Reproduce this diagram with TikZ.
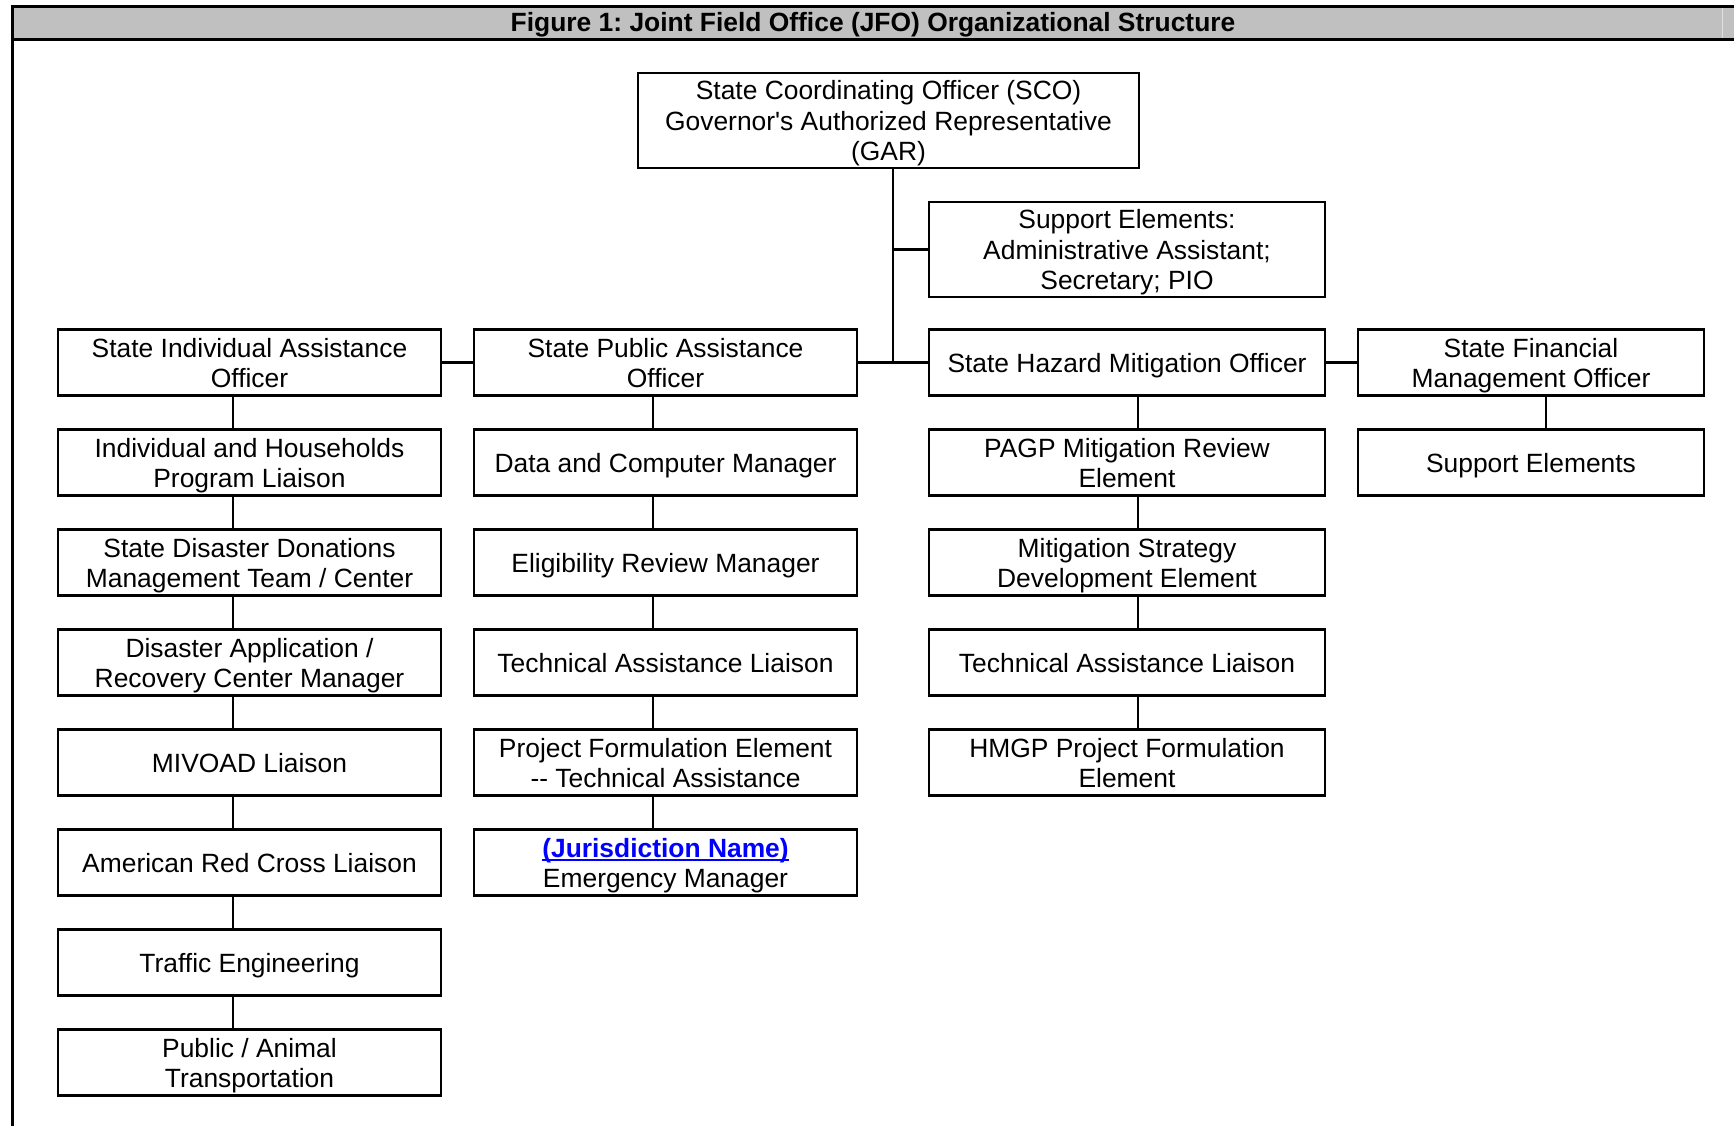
\documentclass[tikz,border=0pt]{standalone}
\usepackage{fontspec}
\setmainfont{Liberation Sans}
\frenchspacing
\definecolor{barfill}{RGB}{192,192,192}
\definecolor{linkblue}{RGB}{0,0,255}
\newcommand{\ulink}[1]{\setbox0\hbox{#1}\rlap{\rule[-4pt]{\wd0}{2pt}}\box0}
\newcommand{\tstrut}{\rule{0pt}{25pt}}
\newcommand{\bstrut}{\rule[-5pt]{0pt}{0pt}}
\tikzset{
  unit/.style={draw, line width=2.8pt, inner sep=0pt, minimum height=66, align=center,
    font=\fontsize{26.4}{30.5}\selectfont},
  link/.style={line width=2.8pt}
}
\begin{document}
\begin{tikzpicture}[x=1pt, y=-1pt]
  \useasboundingbox (0,0) rectangle (1734,1126);
  \fill[barfill] (12.5,6.5) rectangle (1734,39.5);
  \draw[white!88!black, line width=1pt] (1722,8) -- (1722,38);
  \draw[line width=3pt] (1734,6.5) -- (12.5,6.5) -- (12.5,1126);
  \draw[line width=3pt] (12.5,39.5) -- (1734,39.5);
  \node[font=\fontsize{26.4}{30.5}\selectfont\bfseries] (title) at (873,24.5)
    {Figure 1: Joint Field Office (JFO) Organizational Structure};

  \coordinate (tr) at (893,0);
  \coordinate (c1) at (233,0);
  \coordinate (c2) at (653,0);
  \coordinate (c3) at (1138,0);
  \coordinate (c4) at (1546,0);

  \node[unit, minimum width=501, minimum height=95] (sco) at (888.5,120.5)
    {\tstrut State Coordinating Officer (SCO)\\Governor\textquotesingle s Authorized Representative\\(GAR)\bstrut};
  \node[unit, minimum width=396, minimum height=95] (supp) at (1127,249.5)
    {\tstrut Support Elements:\\Administrative Assistant;\\Secretary; PIO\bstrut};

  \node[unit, minimum width=383] (ia1) at (249.5,362.5) {\tstrut State Individual Assistance\\Officer\bstrut};
  \node[unit, minimum width=383] (pa1) at (665.5,362.5) {\tstrut State Public Assistance\\Officer\bstrut};
  \node[unit, minimum width=396] (hm1) at (1127,362.5) {\tstrut State Hazard Mitigation Officer\bstrut};
  \node[unit, minimum width=346] (fm1) at (1531,362.5) {\tstrut State Financial\\Management Officer\bstrut};

  \foreach \t [count=\i from 2] in {{Individual and Households\\Program Liaison},
      {State Disaster Donations\\Management Team / Center},
      {Disaster Application /\\Recovery Center Manager},
      {MIVOAD Liaison}, {American Red Cross Liaison}, {Traffic Engineering},
      {Public / Animal\\Transportation}}
    \node[unit, minimum width=383] (ia\i) at (249.5,262.5+100*\i) {\tstrut\t\bstrut};
  \foreach \t [count=\i from 2] in {{Data and Computer Manager},
      {Eligibility Review Manager}, {Technical Assistance Liaison},
      {Project Formulation Element\\-{}- Technical Assistance},
      {\textcolor{linkblue}{\bfseries\ulink{(Jurisdiction Name)}}\\Emergency Manager}}
    \node[unit, minimum width=383] (pa\i) at (665.5,262.5+100*\i) {\tstrut\t\bstrut};
  \foreach \t [count=\i from 2] in {{PAGP Mitigation Review\\Element},
      {Mitigation Strategy\\Development Element}, {Technical Assistance Liaison},
      {HMGP Project Formulation\\Element}}
    \node[unit, minimum width=396] (hm\i) at (1127,262.5+100*\i) {\tstrut\t\bstrut};
  \node[unit, minimum width=346] (fm2) at (1531,462.5) {\tstrut Support Elements\bstrut};

  \draw[link] (sco.south -| tr) -- (tr |- hm1.west);
  \draw[link] (tr |- supp.west) -- (supp.west);
  \draw[link] (ia1.east) -- (pa1.west);
  \draw[link] (pa1.east) -- (hm1.west);
  \draw[link] (hm1.east) -- (fm1.west);
  \foreach \i [remember=\i as \h (initially 1)] in {2,...,8}
    \draw[link] (ia\h.south -| c1) -- (ia\i.north -| c1);
  \foreach \i [remember=\i as \h (initially 1)] in {2,...,6}
    \draw[link] (pa\h.south -| c2) -- (pa\i.north -| c2);
  \foreach \i [remember=\i as \h (initially 1)] in {2,...,5}
    \draw[link] (hm\h.south -| c3) -- (hm\i.north -| c3);
  \draw[link] (fm1.south -| c4) -- (fm2.north -| c4);
\end{tikzpicture}
\end{document}
